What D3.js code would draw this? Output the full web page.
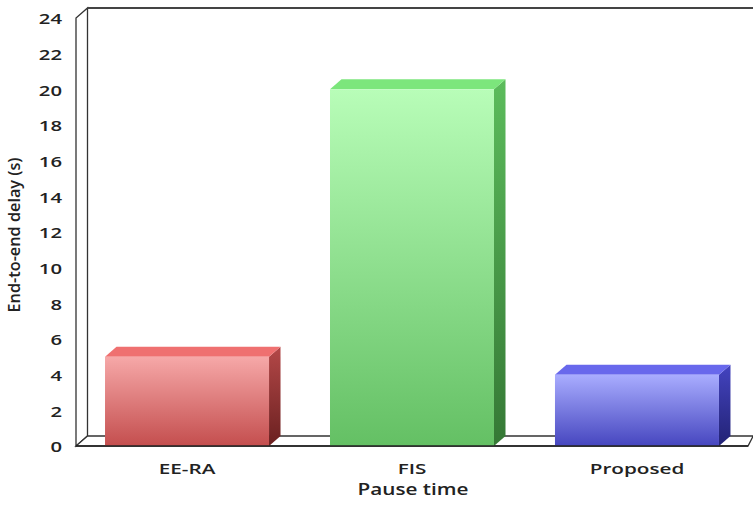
<!DOCTYPE html>
<html>
<head>
<meta charset="utf-8">
<script src="https://cdn.jsdelivr.net/npm/d3@7/dist/d3.min.js"></script>
<style>
  html, body { margin: 0; padding: 0; background: #fff; }
  svg { display: block; }
  text { font-family: "Open Sans", "DejaVu Sans", sans-serif; fill: #222; font-weight: 600; }
</style>
</head>
<body>
<svg id="chart" width="753" height="506"></svg>
<script>
// Data
const categories = ["EE-RA", "FIS", "Proposed"];
const delays = [5, 20, 4];
const yTicks = [0, 2, 4, 6, 8, 10, 12, 14, 16, 18, 20, 22, 24];
const xTitle = "Pause time";
const yTitle = "End-to-end delay (s)";

// Colour sets per bar: front gradient (top, bottom), top face, side gradient (top, bottom)
const palettes = [
  { front: ["#f6a8a8", "#c44e4e"], top: "#ef7070", side: ["#b44848", "#6a2020"] },
  { front: ["#b8fdb8", "#64c064"], top: "#7ce67c", side: ["#5cbc5c", "#357835"] },
  { front: ["#a9adff", "#4646bf"], top: "#6868ec", side: ["#4444c0", "#222274"] }
];

const svg = d3.select("#chart");
const W = 753, H = 506;

// Front plane of the 3D box and depth offset
const plotLeft = 76, plotRight = 748, plotBottom = 446, plotTop = 18;
const dx = 11.5, dy = -10;

const x = d3.scaleBand().domain(categories).range([plotLeft, plotRight])
  .paddingInner(0.271).paddingOuter(0.129);
const y = d3.scaleLinear().domain([0, 24]).range([plotBottom, plotTop]);

const defs = svg.append("defs");
palettes.forEach((p, i) => {
  const gf = defs.append("linearGradient").attr("id", "front" + i)
    .attr("x1", 0).attr("y1", 0).attr("x2", 0).attr("y2", 1);
  gf.append("stop").attr("offset", "0%").attr("stop-color", p.front[0]);
  gf.append("stop").attr("offset", "100%").attr("stop-color", p.front[1]);
  const gs = defs.append("linearGradient").attr("id", "side" + i)
    .attr("x1", 0).attr("y1", 0).attr("x2", 0).attr("y2", 1);
  gs.append("stop").attr("offset", "0%").attr("stop-color", p.side[0]);
  gs.append("stop").attr("offset", "100%").attr("stop-color", p.side[1]);
});

const wallStroke = "#333";

// Left wall
svg.append("path")
  .attr("d", `M${plotLeft},${y(0)} L${plotLeft},${y(24)} L${plotLeft + dx},${y(24) + dy} L${plotLeft + dx},${y(0) + dy} Z`)
  .attr("fill", "#fff").attr("stroke", wallStroke).attr("stroke-width", 1.3);

// Back wall top edge
svg.append("line")
  .attr("x1", plotLeft + dx).attr("y1", y(24) + dy)
  .attr("x2", W).attr("y2", y(24) + dy)
  .attr("stroke", "#444").attr("stroke-width", 1.8);

// Floor
svg.append("path")
  .attr("d", `M${plotLeft},${y(0)} L${plotRight},${y(0)} L${plotRight + dx * 0.45},${y(0) + dy} L${plotLeft + dx},${y(0) + dy} Z`)
  .attr("fill", "#fff").attr("stroke", wallStroke).attr("stroke-width", 1.3);

// Bars
const bars = svg.append("g").selectAll("g").data(categories).join("g");
bars.each(function (c, i) {
  const g = d3.select(this);
  const x0 = x(c), x1 = x(c) + x.bandwidth();
  const yt = y(delays[i]), yb = y(0);
  // side face
  g.append("path")
    .attr("d", `M${x1},${yb} L${x1},${yt} L${x1 + dx},${yt + dy} L${x1 + dx},${yb + dy} Z`)
    .attr("fill", `url(#side${i})`);
  // top face
  g.append("path")
    .attr("d", `M${x0},${yt} L${x0 + dx},${yt + dy} L${x1 + dx},${yt + dy} L${x1},${yt} Z`)
    .attr("fill", palettes[i].top);
  // front face
  g.append("rect")
    .attr("x", x0).attr("y", yt)
    .attr("width", x.bandwidth()).attr("height", yb - yt)
    .attr("fill", `url(#front${i})`);
});

// Front floor edge drawn over the bars
svg.append("line")
  .attr("x1", plotLeft).attr("x2", plotRight).attr("y1", y(0)).attr("y2", y(0))
  .attr("stroke", "#222").attr("stroke-width", 1.5);

// Y axis tick labels (wide lettering)
svg.append("g").selectAll("text").data(yTicks).join("text")
  .attr("transform", d => `translate(62,${y(d) + 1}) scale(1.4,1)`)
  .attr("text-anchor", "end")
  .attr("dy", "0.36em")
  .attr("font-size", 14.5)
  .text(d => d);

// X axis category labels
svg.append("g").selectAll("text").data(categories).join("text")
  .attr("transform", c => `translate(${x(c) + x.bandwidth() / 2},474) scale(1.38,1)`)
  .attr("text-anchor", "middle")
  .attr("font-size", 15)
  .text(c => c);

// Axis titles
svg.append("text")
  .attr("transform", `translate(${(plotLeft + plotRight) / 2 + 1},495) scale(1.22,1)`)
  .attr("text-anchor", "middle")
  .attr("font-size", 17)
  .text(xTitle);

svg.append("text")
  .attr("transform", `translate(20,235) rotate(-90) scale(1.05,1)`)
  .attr("text-anchor", "middle")
  .attr("font-size", 15.5)
  .text(yTitle);
</script>
</body>
</html>
